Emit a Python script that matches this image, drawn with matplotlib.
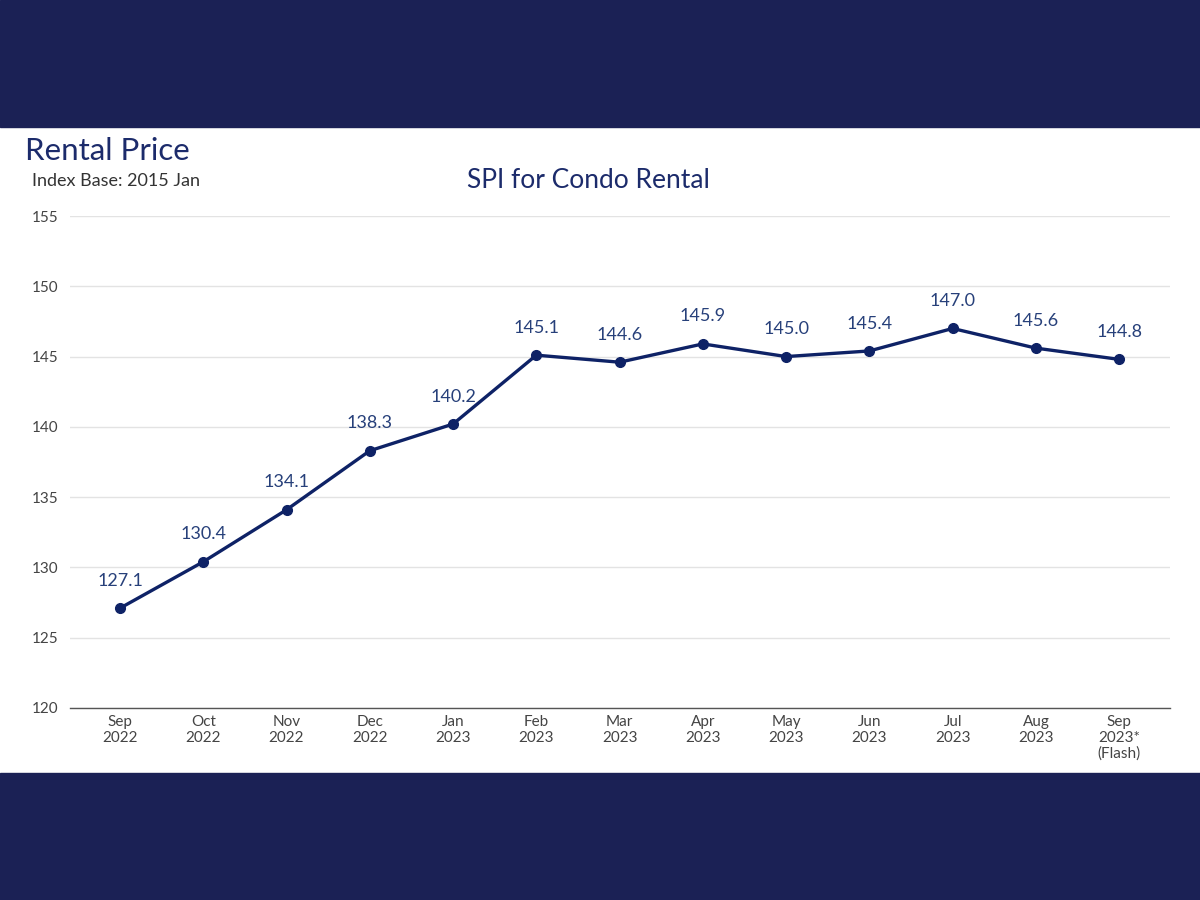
import numpy as np
import matplotlib.pyplot as plt
from matplotlib.patches import Rectangle

# data
months = ['Sep\n2022', 'Oct\n2022', 'Nov\n2022', 'Dec\n2022', 'Jan\n2023', 'Feb\n2023',
          'Mar\n2023', 'Apr\n2023', 'May\n2023', 'Jun\n2023', 'Jul\n2023', 'Aug\n2023',
          'Sep\n2023*\n(Flash)']
spi = [127.1, 130.4, 134.1, 138.3, 140.2, 145.1, 144.6, 145.9, 145.0, 145.4, 147.0, 145.6, 144.8]
y_ticks = [120, 125, 130, 135, 140, 145, 150, 155]

navy = '#1b2155'
line_col = '#0e2266'
text_navy = '#1c2b6b'

plt.rcParams['font.family'] = ['Lato', 'DejaVu Sans']

fig = plt.figure(figsize=(12, 9), dpi=100)
fig.patch.set_facecolor('white')

# dark bands top and bottom
fig.patches.append(Rectangle((0, 1 - 127 / 900), 1, 127 / 900, transform=fig.transFigure,
                             color=navy, zorder=0))
fig.patches.append(Rectangle((0, 0), 1, 127 / 900, transform=fig.transFigure,
                             color=navy, zorder=0))

ax = fig.add_axes([70 / 1200, 1 - 708 / 900, 1100 / 1200, (708 - 216) / 900])
x = np.arange(len(months))
ax.plot(x, spi, color=line_col, linewidth=2.4, marker='o', markersize=7, zorder=3)

for xi, v in zip(x, spi):
    ax.annotate(f'{v:.1f}', (xi, v), xytext=(0, 14), textcoords='offset points',
                ha='center', va='bottom', fontsize=13, color='#27407a')

ax.set_xlim(-0.6, 12.61)
ax.set_ylim(120, 155)
ax.set_yticks(y_ticks)
ax.set_xticks(x)
ax.set_xticklabels(months, fontsize=11, color='#444444', linespacing=1.15)
ax.tick_params(axis='y', length=0, pad=8, labelsize=11, labelcolor='#444444')
ax.tick_params(axis='x', length=0, pad=5)
ax.grid(axis='y', color='#e3e3e3', linewidth=1)
ax.set_axisbelow(True)
for s in ['top', 'right', 'left']:
    ax.spines[s].set_visible(False)
ax.spines['bottom'].set_color('#555555')
ax.spines['bottom'].set_linewidth(1)

fig.text(25 / 1200, 1 - 151 / 900, 'Rental Price', fontsize=22.5, color=text_navy,
         ha='left', va='center')
fig.text(32 / 1200, 1 - 181 / 900, 'Index Base: 2015 Jan', fontsize=13, color='#333333',
         ha='left', va='center')
fig.text(588 / 1200, 1 - 180 / 900, 'SPI for Condo Rental', fontsize=19, color=text_navy,
         ha='center', va='center')

fig.savefig('out.png', dpi=100)
